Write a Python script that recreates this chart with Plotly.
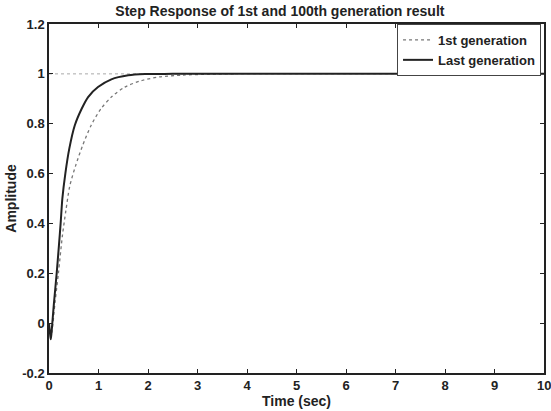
import plotly.graph_objects as go

# Last generation (solid)
t_last = [0, 0.02, 0.035, 0.05, 0.067, 0.1, 0.155, 0.2, 0.235, 0.27, 0.33, 0.41, 0.52, 0.66, 0.79, 0.99, 1.26, 1.6, 1.94, 2.5, 10]
y_last = [0, -0.04, -0.065, -0.04, 0.0, 0.08, 0.2, 0.31, 0.4, 0.5, 0.6, 0.7, 0.793, 0.86, 0.907, 0.947, 0.978, 0.994, 0.999, 1.0, 1.0]

# 1st generation (dotted)
t_first = [0, 0.02, 0.04, 0.06, 0.08, 0.12, 0.19, 0.27, 0.34, 0.42, 0.54, 0.68, 0.85, 1.05, 1.26, 1.53, 1.87, 2.24, 2.7, 3.3, 3.8]
y_first = [0, -0.035, -0.055, -0.035, 0.0, 0.08, 0.2, 0.35, 0.45, 0.55, 0.633, 0.713, 0.793, 0.86, 0.907, 0.947, 0.973, 0.988, 0.995, 0.999, 1.0]

steady_t = [0, 10]
steady_y = [1, 1]

x_ticks = list(range(0, 11))
x_tick_labels = [str(v) for v in x_ticks]
y_ticks = [-0.2, 0, 0.2, 0.4, 0.6, 0.8, 1, 1.2]
y_tick_labels = ["-0.2", "0", "0.2", "0.4", "0.6", "0.8", "1", "1.2"]

fig = go.Figure()
fig.add_trace(go.Scatter(x=steady_t, y=steady_y, mode="lines",
                         line=dict(color="#aaaaaa", width=1, dash="dot"),
                         showlegend=False, hoverinfo="skip"))
fig.add_trace(go.Scatter(x=t_first, y=y_first, mode="lines", name="1st generation",
                         line=dict(color="#777777", width=1.3, dash="dot", shape="spline", smoothing=0.8)))
fig.add_trace(go.Scatter(x=t_last, y=y_last, mode="lines", name="Last generation",
                         line=dict(color="#222222", width=2, shape="spline", smoothing=0.8)))

font_main = "Liberation Sans, Arial, sans-serif"
tick_font = dict(family=font_main, size=13, color="#222222", weight="bold")
axis_common = dict(showline=True, linecolor="#222222", linewidth=1.5, mirror="ticks",
                   ticks="inside", ticklen=4, tickcolor="#222222", showgrid=False,
                   zeroline=False, automargin=False, tickfont=tick_font)

# last x tick label sits at the very edge of the page; draw it as an annotation
shown_x_labels = x_tick_labels[:-1] + [""]

fig.update_layout(
    width=551, height=411,
    margin=dict(l=49, r=7, t=24, b=38),
    paper_bgcolor="white", plot_bgcolor="white",
    title=dict(text="<b>Step Response of 1st and 100th generation result</b>",
               x=0.508, xanchor="center", xref="container",
               y=1 - 11 / 411, yanchor="middle",
               font=dict(family=font_main, size=14, color="#222222")),
    xaxis=dict(range=[0, 10], tickvals=x_ticks, ticktext=shown_x_labels,
               title=dict(text="<b>Time (sec)</b>", standoff=0,
                          font=dict(family=font_main, size=14, color="#222222")),
               **axis_common),
    yaxis=dict(range=[-0.2, 1.2], tickvals=y_ticks, ticktext=y_tick_labels,
               title=dict(text="<b>Amplitude</b>", standoff=2,
                          font=dict(family=font_main, size=14, color="#222222")),
               **axis_common),
    legend=dict(x=0.994, y=1.0, xanchor="right", yanchor="top",
                bgcolor="white", bordercolor="#444444", borderwidth=1,
                font=dict(family=font_main, size=13, color="#222222", weight="bold"),
                tracegroupgap=0, itemwidth=30),
    showlegend=True,
)

fig.add_annotation(x=x_ticks[-1], y=0, xref="x", yref="paper", yanchor="top",
                   xanchor="center", yshift=-3, text="<b>" + x_tick_labels[-1] + "</b>",
                   showarrow=False, font=tick_font)

fig.write_html("out.html", post_script="document.body.style.margin='0';",
               config={"displayModeBar": False})
